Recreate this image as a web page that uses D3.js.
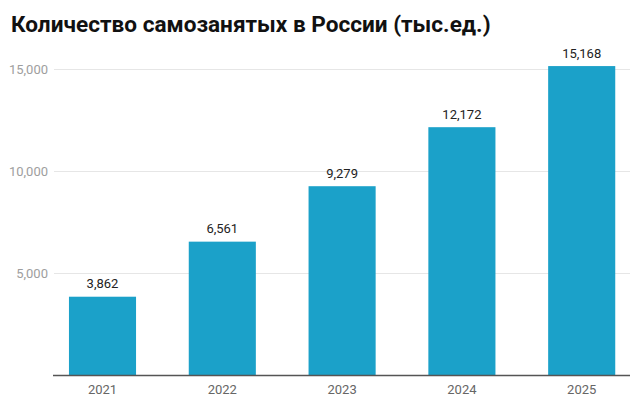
<!DOCTYPE html>
<html>
<head>
<meta charset="utf-8">
<script src="https://cdn.jsdelivr.net/npm/d3@7"></script>
<style>
html,body{margin:0;padding:0;background:#fff;}
svg{display:block;}
</style>
</head>
<body>
<svg id="chart" width="640" height="419"></svg>
<script>
const title = "Количество самозанятых в России (тыс.ед.)";
const years = ["2021", "2022", "2023", "2024", "2025"];
const values = [3862, 6561, 9279, 12172, 15168];
const yTicks = [5000, 10000, 15000];

const W = 640, H = 419;
const svg = d3.select("#chart");
const font = "Roboto, 'Liberation Sans', sans-serif";

const x = d3.scaleBand().domain(years).range([42.6, 641.6]).paddingInner(0.44).paddingOuter(0.22);
const y = d3.scaleLinear().domain([0, 15000]).range([375.5, 69.5]);

const fmt = d3.format(",");

// gridlines
svg.append("g").selectAll("line").data(yTicks).join("line")
  .attr("x1", 54).attr("x2", 630)
  .attr("y1", d => y(d)).attr("y2", d => y(d))
  .attr("stroke", "#e6e6e6").attr("stroke-width", 1);

// y labels
svg.append("g").selectAll("text").data(yTicks).join("text")
  .attr("x", 48).attr("y", d => y(d) + 4.5)
  .attr("text-anchor", "end")
  .attr("font-family", font).attr("font-size", 13)
  .attr("fill", "#9e9e9e")
  .text(d => fmt(d));

// bars
svg.append("g").selectAll("rect").data(values).join("rect")
  .attr("x", (d, i) => x(years[i]))
  .attr("width", x.bandwidth())
  .attr("y", d => y(d))
  .attr("height", d => y(0) - y(d))
  .attr("fill", "#1ba1c9");

// value labels
svg.append("g").selectAll("text").data(values).join("text")
  .attr("x", (d, i) => x(years[i]) + x.bandwidth() / 2)
  .attr("y", d => y(d) - 8.5)
  .attr("text-anchor", "middle")
  .attr("font-family", font).attr("font-size", 13)
  .attr("fill", "#222")
  .text(d => fmt(d));

// baseline
svg.append("line")
  .attr("x1", 53).attr("x2", 630)
  .attr("y1", y(0)).attr("y2", y(0))
  .attr("stroke", "#555").attr("stroke-width", 1.6);

// x labels
svg.append("g").selectAll("text").data(years).join("text")
  .attr("x", d => x(d) + x.bandwidth() / 2)
  .attr("y", 393.5)
  .attr("text-anchor", "middle")
  .attr("font-family", font).attr("font-size", 13)
  .attr("fill", "#666")
  .text(d => d);

// title
svg.append("text")
  .attr("x", 11).attr("y", 31.5)
  .attr("font-family", font).attr("font-size", 22.6).attr("font-weight", "bold")
  .attr("fill", "#111")
  .text(title);
</script>
</body>
</html>
